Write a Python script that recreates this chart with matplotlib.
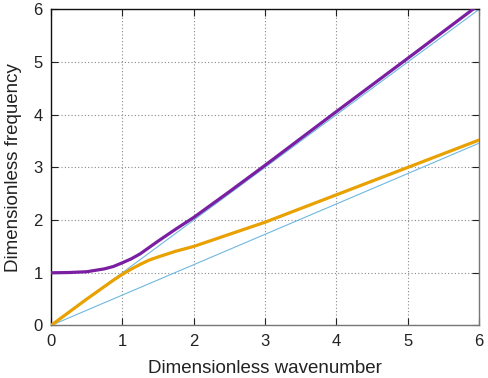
import matplotlib
matplotlib.use("Agg")
import matplotlib.pyplot as plt

plt.rcParams['font.family'] = ['Liberation Sans', 'DejaVu Sans']

# Data
k_upper = [0, 0.25, 0.5, 0.75, 0.875, 1.0, 1.125, 1.25, 1.375, 1.5, 1.625, 1.75, 2.0, 2.5, 3.0, 4.0, 5.0, 6.0]
w_upper = [1.0, 1.005, 1.02, 1.075, 1.12, 1.19, 1.265, 1.36, 1.48, 1.60, 1.715, 1.83, 2.05, 2.54, 3.04, 4.06, 5.07, 6.09]

k_lower = [0, 0.25, 0.5, 0.75, 0.875, 1.0, 1.125, 1.25, 1.375, 1.5, 1.75, 2.0, 2.5, 3.0, 4.0, 5.0, 6.0]
w_lower = [0, 0.25, 0.5, 0.74, 0.86, 0.97, 1.07, 1.16, 1.24, 1.30, 1.41, 1.50, 1.73, 1.96, 2.48, 3.0, 3.52]

k_ref = [0, 6]
w_ref_fast = [0, 6]
w_ref_slow = [0, 3.46]

xticks = [0, 1, 2, 3, 4, 5, 6]
yticks = [0, 1, 2, 3, 4, 5, 6]

fig = plt.figure(figsize=(4.88, 3.78), dpi=100)
ax = fig.add_axes([0.1045, 0.139, 0.877, 0.836])

ax.plot(k_ref, w_ref_fast, color='#6fb8e0', lw=0.8, zorder=2)
ax.plot(k_ref, w_ref_slow, color='#6fb8e0', lw=0.8, zorder=2)
ax.plot(k_upper, w_upper, color='#7b1fa2', lw=2.3, zorder=3, solid_capstyle='round')
ax.plot(k_lower, w_lower, color='#e8a100', lw=2.3, zorder=3, solid_capstyle='round')

ax.set_xlim(0, 6)
ax.set_ylim(0, 6)
ax.set_xticks(xticks)
ax.set_yticks(yticks)
ax.grid(True, color='#888888', linestyle=(0, (1, 2)), linewidth=0.8)
ax.tick_params(direction='in', length=5, width=0.8, top=True, right=True,
               labelsize=12, colors='#222222', pad=6)
for side in ['left', 'top']:
    ax.spines[side].set_color('#111111')
for side in ['right', 'bottom']:
    ax.spines[side].set_color('#777777')
for s in ax.spines.values():
    s.set_linewidth(1.0)

ax.set_xlabel('Dimensionless wavenumber', fontsize=13.5, color='#222222', labelpad=8)
ax.set_ylabel('Dimensionless frequency', fontsize=13.5, color='#222222', labelpad=8)

fig.savefig('out.png', dpi=100)
